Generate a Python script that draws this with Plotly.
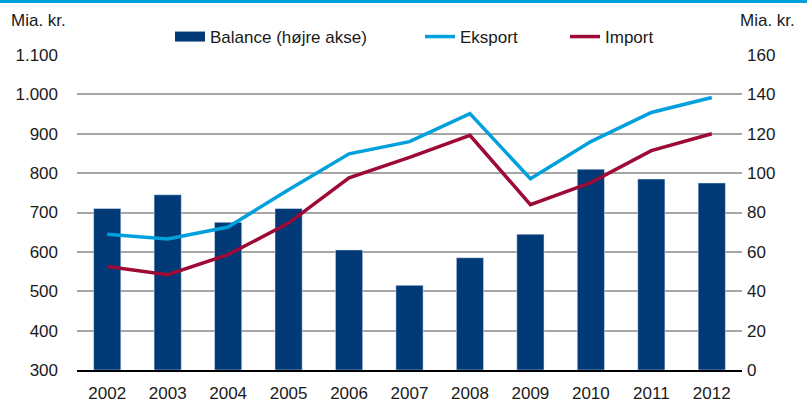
import plotly.graph_objects as go

years = ["2002", "2003", "2004", "2005", "2006", "2007", "2008", "2009", "2010", "2011", "2012"]
balance = [82, 89, 75, 82, 61, 43, 57, 69, 102, 97, 95]
eksport = [645, 633, 663, 758, 849, 880, 951, 786, 880, 954, 992]
importv = [563, 542, 593, 673, 788, 840, 896, 720, 776, 857, 900]

left_ticks = [300, 400, 500, 600, 700, 800, 900, 1000, 1100]
right_ticks = [0, 20, 40, 60, 80, 100, 120, 140, 160]

NAVY = "#023A78"
BLUE = "#00A0DC"
RED = "#9C0A35"
FONT = "Liberation Sans, Arial, sans-serif"
FS = 17

W, H = 807, 418
L, R, T, B = 77, 65, 55, 48
PW, PH = W - L - R, H - T - B


def px_x(x):
    return (x - L) / PW


def px_y(y):
    return 1 + (T - y) / PH


fig = go.Figure()
# bars on the primary (right-hand) axis so the lines (overlay axis) are drawn on top
fig.add_trace(go.Bar(x=years, y=balance, name="Balance (højre akse)", marker_color=NAVY,
                     yaxis="y", showlegend=False))
# legend entry for the bars (wide swatch)
fig.add_trace(go.Scatter(x=[None], y=[None], mode="lines", name="Balance (højre akse)",
                         line=dict(color=NAVY, width=10), yaxis="y", legend="legend"))
fig.add_trace(go.Scatter(x=years, y=eksport, name="Eksport", mode="lines", yaxis="y2",
                         line=dict(color=BLUE, width=3.5), legend="legend2"))
fig.add_trace(go.Scatter(x=years, y=importv, name="Import", mode="lines", yaxis="y2",
                         line=dict(color=RED, width=3.5), legend="legend3"))

leg_common = dict(orientation="h", xanchor="left", yanchor="middle", y=px_y(37),
                  font=dict(size=FS), itemwidth=30, bgcolor="rgba(0,0,0,0)")

fig.update_layout(
    width=W, height=H,
    margin=dict(l=L, r=R, t=T, b=B),
    paper_bgcolor="white", plot_bgcolor="white",
    font=dict(family=FONT, size=FS, color="#1a1a1a"),
    separators=",.",
    bargap=0.55,
    showlegend=True,
    legend=dict(x=px_x(170), **leg_common),
    legend2=dict(x=px_x(420), **leg_common),
    legend3=dict(x=px_x(565), **leg_common),
    xaxis=dict(showgrid=False, showline=True, linecolor="black", linewidth=2,
               ticks="", ticklabelstandoff=7, tickfont=dict(size=FS)),
    yaxis=dict(range=[0, 160], tickvals=right_ticks, side="right",
               showgrid=True, gridcolor="#A6A6A6", gridwidth=1.5, zeroline=False,
               ticks="", ticklabelstandoff=4, showline=False),
    yaxis2=dict(range=[300, 1100], tickvals=left_ticks, separatethousands=True,
                overlaying="y", side="left", showgrid=False, zeroline=False,
                ticks="", ticklabelstandoff=18, showline=False),
    shapes=[dict(type="line", xref="paper", yref="paper",
                 x0=px_x(0), x1=px_x(W), y0=px_y(1.5), y1=px_y(1.5),
                 line=dict(color=BLUE, width=3))],
    annotations=[
        dict(text="Mia. kr.", xref="paper", yref="paper", x=px_x(9), y=px_y(21),
             xanchor="left", yanchor="middle", showarrow=False, font=dict(size=FS)),
        dict(text="Mia. kr.", xref="paper", yref="paper", x=px_x(738), y=px_y(21),
             xanchor="left", yanchor="middle", showarrow=False, font=dict(size=FS)),
    ],
)

fig.write_html("out.html", config={"displayModeBar": False},
               post_script="document.body.style.margin='0';document.body.style.padding='0';"
                           "document.body.style.overflow='hidden';")
